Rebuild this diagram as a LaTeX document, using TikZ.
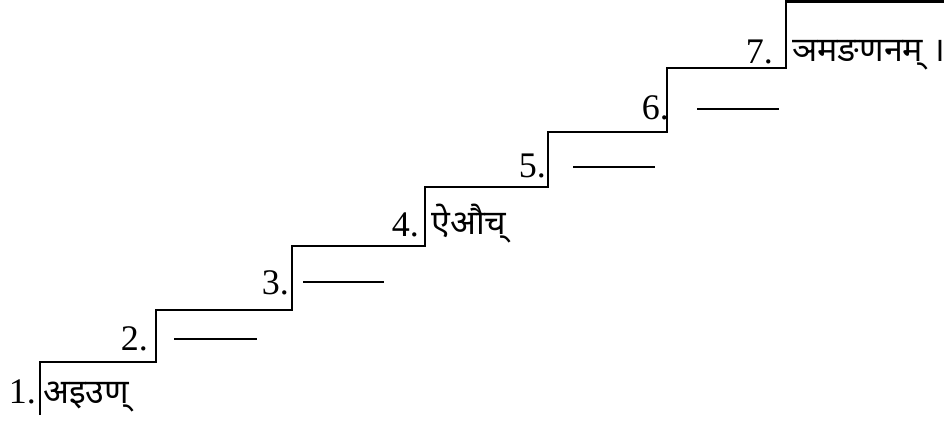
\documentclass[tikz,border=0pt]{standalone}
\usepackage{fontspec}
\setmainfont{Liberation Serif}
\newfontfamily\deva[Script=Devanagari]{Noto Sans}
\begin{document}
\begin{tikzpicture}[x=1pt,y=-1pt,
  stair/.style={line width=2.8pt, line join=miter},
  blank/.style={line width=2.8pt},
  num/.style={anchor=base east, inner sep=0pt, font=\fontsize{36}{40}\selectfont},
  sutra/.style={anchor=base west, inner sep=0pt, font=\deva\fontsize{34}{38}\selectfont}]
\useasboundingbox (0,0) rectangle (944,423);
% stair corners
\coordinate (s0) at (40,415);
\coordinate (s1) at (40,362);
\coordinate (s2) at (156,362);
\coordinate (s3) at (156,310);
\coordinate (s4) at (292,310);
\coordinate (s5) at (292,246);
\coordinate (s6) at (425,246);
\coordinate (s7) at (425,187);
\coordinate (s8) at (548,187);
\coordinate (s9) at (548,132);
\coordinate (s10) at (667,132);
\coordinate (s11) at (667,68);
\coordinate (s12) at (786,68);
\coordinate (s13) at (786,1.4);
\coordinate (s14) at (944,1.4);
\draw[stair] (s0) -- (s1) -- (s2) -- (s3) -- (s4) -- (s5) -- (s6) -- (s7) -- (s8) -- (s9) -- (s10) -- (s11) -- (s12) -- (s13) -- (s14);
% numbers
\node[num] (n1) at (36,403) {1.};
\node[num] (n2) at (148,350) {2.};
\node[num] (n3) at (289,294) {3.};
\node[num] (n4) at (419,236) {4.};
\node[num] (n5) at (546,177) {5.};
\node[num] (n6) at (669,119) {6.};
\node[num] (n7) at (773,63) {7.};
% sutras
\node[sutra] (t1) at (43,403) {अइउण्};
\node[sutra] (t4) at (431,234) {ऐऔच्};
\node[sutra] (t7) at (792,61) {ञमङणनम् ।};
% blanks
\coordinate (b2a) at (174,339); \coordinate (b2b) at (257,339);
\coordinate (b3a) at (303,282); \coordinate (b3b) at (384,282);
\coordinate (b5a) at (573,167); \coordinate (b5b) at (655,167);
\coordinate (b6a) at (697,109); \coordinate (b6b) at (779,109);
\draw[blank] (b2a) -- (b2b);
\draw[blank] (b3a) -- (b3b);
\draw[blank] (b5a) -- (b5b);
\draw[blank] (b6a) -- (b6b);
\end{tikzpicture}
\end{document}
